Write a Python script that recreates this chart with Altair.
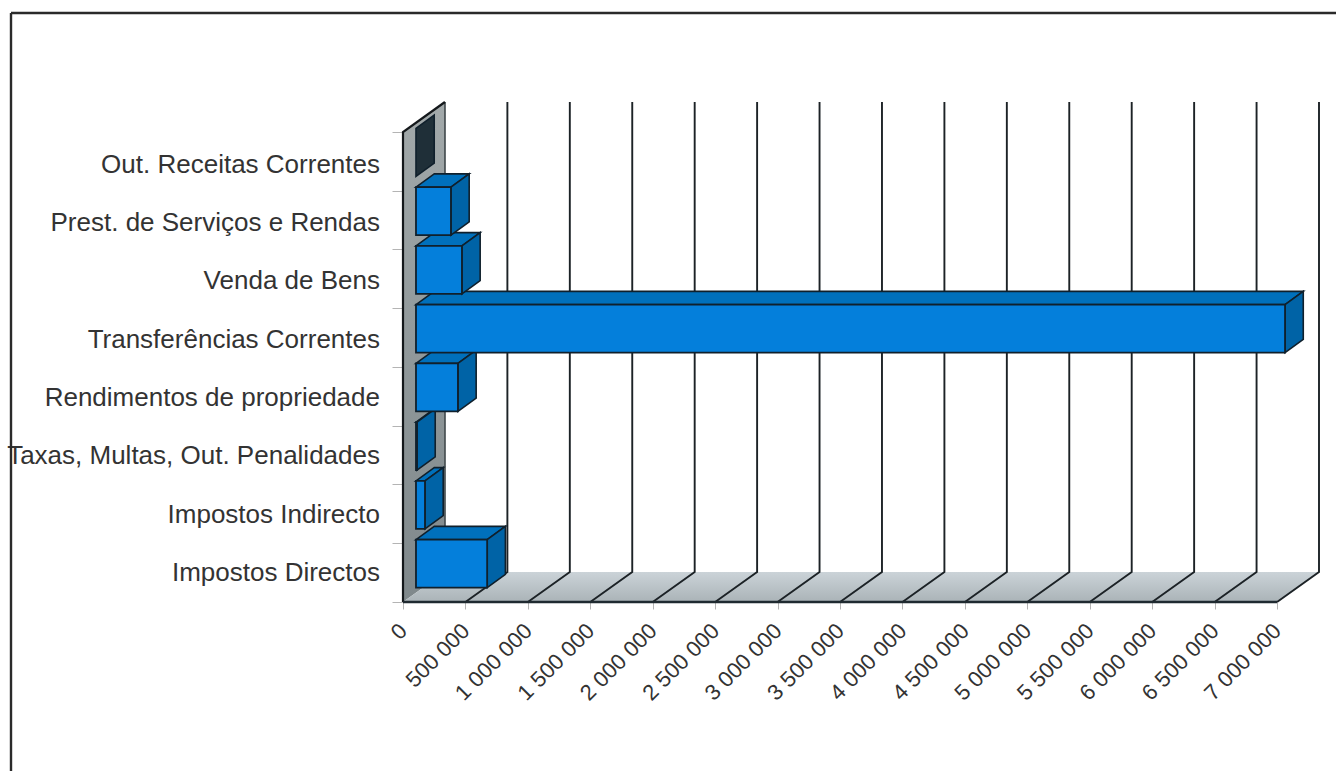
import altair as alt
import pandas as pd

# Revenue by category (bottom to top)
categories = [
    "Impostos Directos", "Impostos Indirecto", "Taxas, Multas, Out. Penalidades",
    "Rendimentos de propriedade", "Transferências Correntes", "Venda de Bens",
    "Prest. de Serviços e Rendas", "Out. Receitas Correntes",
]
values = [570000, 72000, 8000, 336000, 6960000, 368000, 280000, 0]
x_ticks = list(range(0, 7000001, 500000))

# Oblique projection: depth expressed in axis units
X_MAX = 7000000
DEPTH_X, DEPTH_Y = 336000, 0.5106
BAR_X, BAR_Y = 104000, 0.153       # where a bar starts inside the depth
BAR_DX, BAR_DY = 146000, 0.225     # how deep a bar is
PAD, BAR_H = 0.092, 0.817
n = len(categories)

x_scale = alt.Scale(domain=[0, X_MAX + DEPTH_X], nice=False, zero=False)
y_scale = alt.Scale(domain=[0, n + DEPTH_Y], nice=False, zero=False)
x_axis = alt.Axis(values=x_ticks, domain=False, grid=False, tickColor="#b4b4b4", tickSize=7,
                  labelAngle=-45, labelAlign="right", labelBaseline="middle", labelPadding=18,
                  labelFont="Liberation Sans", labelFontSize=22, labelColor="#333333",
                  labelOverlap=False, labelBound=False, labelFlush=False,
                  labelExpr="replace(format(datum.value, ','), regexp(',', 'g'), ' ')")
y_axis = alt.Axis(values=list(range(n + 1)), domain=False, grid=False, labels=False,
                  tickColor="#b4b4b4", tickSize=11)


def X(field):
    return alt.X(field, type="quantitative", scale=x_scale, axis=x_axis, title=None)


def Y(field):
    return alt.Y(field, type="quantitative", scale=y_scale, axis=y_axis, title=None)


X2 = alt.X2
Y2 = alt.Y2
INK = "#10202c"

# Walls and floor
wall = pd.DataFrame({"x": [0, DEPTH_X], "lo": [0, DEPTH_Y], "hi": [n, n + DEPTH_Y]})
floor = pd.DataFrame({"y": [0, DEPTH_Y], "x0": [0, DEPTH_X], "x1": [X_MAX, X_MAX + DEPTH_X]})

wall_layer = alt.Chart(wall).mark_area(
    orient="vertical",
    color=alt.Gradient(gradient="linear", x1=0, y1=1, x2=0, y2=0,
                       stops=[alt.GradientStop(color="#7f888b", offset=0),
                              alt.GradientStop(color="#a2a9aa", offset=1)]),
).encode(x=X("x"), y=Y("lo"), y2=Y2("hi"))

floor_layer = alt.Chart(floor).mark_area(
    orient="horizontal",
    color=alt.Gradient(gradient="linear", x1=0, y1=1, x2=0, y2=0,
                       stops=[alt.GradientStop(color="#aab3b7", offset=0),
                              alt.GradientStop(color="#cbd3d8", offset=1)]),
).encode(y=Y("y"), x=X("x0"), x2=X2("x1"))

# Gridlines: along the floor, then up the back wall
grid_rows = []
for t in x_ticks[1:]:
    grid_rows += [
        {"t": t, "k": 0, "x": t, "y": 0},
        {"t": t, "k": 1, "x": t + DEPTH_X, "y": DEPTH_Y},
        {"t": t, "k": 2, "x": t + DEPTH_X, "y": n + DEPTH_Y},
    ]
grid_layer = alt.Chart(pd.DataFrame(grid_rows)).mark_line(color="#1c2226", strokeWidth=1.9).encode(
    x=X("x"), y=Y("y"), detail="t:N", order="k:Q",
)

wall_back = alt.Chart(pd.DataFrame({"x": [DEPTH_X, DEPTH_X], "y": [DEPTH_Y, n + DEPTH_Y]})).mark_line(
    color="#4d5558", strokeWidth=1.8
).encode(x=X("x"), y=Y("y"))

wall_edge = alt.Chart(pd.DataFrame({"k": [0, 1, 2], "x": [0, 0, DEPTH_X], "y": [0, n, n + DEPTH_Y]})).mark_line(
    color="#14181b", strokeWidth=2.2
).encode(x=X("x"), y=Y("y"), order="k:Q")

floor_edge = alt.Chart(pd.DataFrame({"x": [0, X_MAX], "y": [0, 0]})).mark_line(
    color="#1f2a30", strokeWidth=2.4
).encode(x=X("x"), y=Y("y"))

# Bar faces, projected from the values
top_rows, side_rows, front_rows = [], [], []
for i, (cat, v) in enumerate(zip(categories, values)):
    lo = i + BAR_Y + PAD
    hi = lo + BAR_H
    x0, x1 = BAR_X, BAR_X + v
    front_rows.append({"cat": cat, "x0": x0, "x1": x1, "lo": lo, "hi": hi, "v": v})
    top_rows += [
        {"cat": cat, "y": hi, "x0": x0, "x1": x1, "v": v},
        {"cat": cat, "y": hi + BAR_DY, "x0": x0 + BAR_DX, "x1": x1 + BAR_DX, "v": v},
    ]
    side_rows += [
        {"cat": cat, "x": x1, "lo": lo, "hi": hi, "v": v},
        {"cat": cat, "x": x1 + BAR_DX, "lo": lo + BAR_DY, "hi": hi + BAR_DY, "v": v},
    ]

tops = alt.Chart(pd.DataFrame(top_rows)).transform_filter("datum.v > 0").mark_area(
    orient="horizontal", color="#0070bc", stroke=INK, strokeWidth=1.6
).encode(y=Y("y"), x=X("x0"), x2=X2("x1"), detail="cat:N")

sides = alt.Chart(pd.DataFrame(side_rows)).mark_area(
    orient="vertical", stroke=INK, strokeWidth=1.6
).encode(
    x=X("x"), y=Y("lo"), y2=Y2("hi"), detail="cat:N",
    color=alt.condition("datum.v > 0", alt.value("#0063a6"), alt.value("#1f2f38")),
)

fronts = alt.Chart(pd.DataFrame(front_rows)).transform_filter("datum.v > 0").mark_rect(
    color="#047fdb", stroke=INK, strokeWidth=1.8
).encode(x=X("x0"), x2=X2("x1"), y=Y("lo"), y2=Y2("hi"))

# Category names sit level with the middle of each band
label_df = pd.DataFrame({"cat": categories, "y": [0.49 + i * 0.9935 for i in range(n)], "x": [0] * n})
labels = alt.Chart(label_df).mark_text(
    align="right", baseline="middle", dx=-23, font="Liberation Sans", fontSize=26, color="#333333"
).encode(x=X("x"), y=Y("y"), text="cat:N")

# Chart frame: top and left edges
frame_left = alt.Chart(pd.DataFrame({"a": [0]})).mark_rule(color="#2a2a2a", strokeWidth=2.4).encode(
    x=alt.value(-392), y=alt.value(-89), y2=alt.value(670)
)
frame_top = alt.Chart(pd.DataFrame({"a": [0]})).mark_rule(color="#2a2a2a", strokeWidth=2.4).encode(
    x=alt.value(-392), x2=alt.value(933), y=alt.value(-89)
)

chart = alt.layer(
    wall_layer, floor_layer, grid_layer, wall_back, wall_edge, floor_edge,
    tops, sides, fronts, labels, frame_left, frame_top,
).properties(
    width=916, height=500,
    padding={"left": 403, "top": 102, "right": 17, "bottom": 169},
    autosize=alt.AutoSizeParams(type="none"),
    background="white",
).configure_view(stroke=None)

chart.save("out.html", embed_options={"renderer": "svg", "actions": False})
